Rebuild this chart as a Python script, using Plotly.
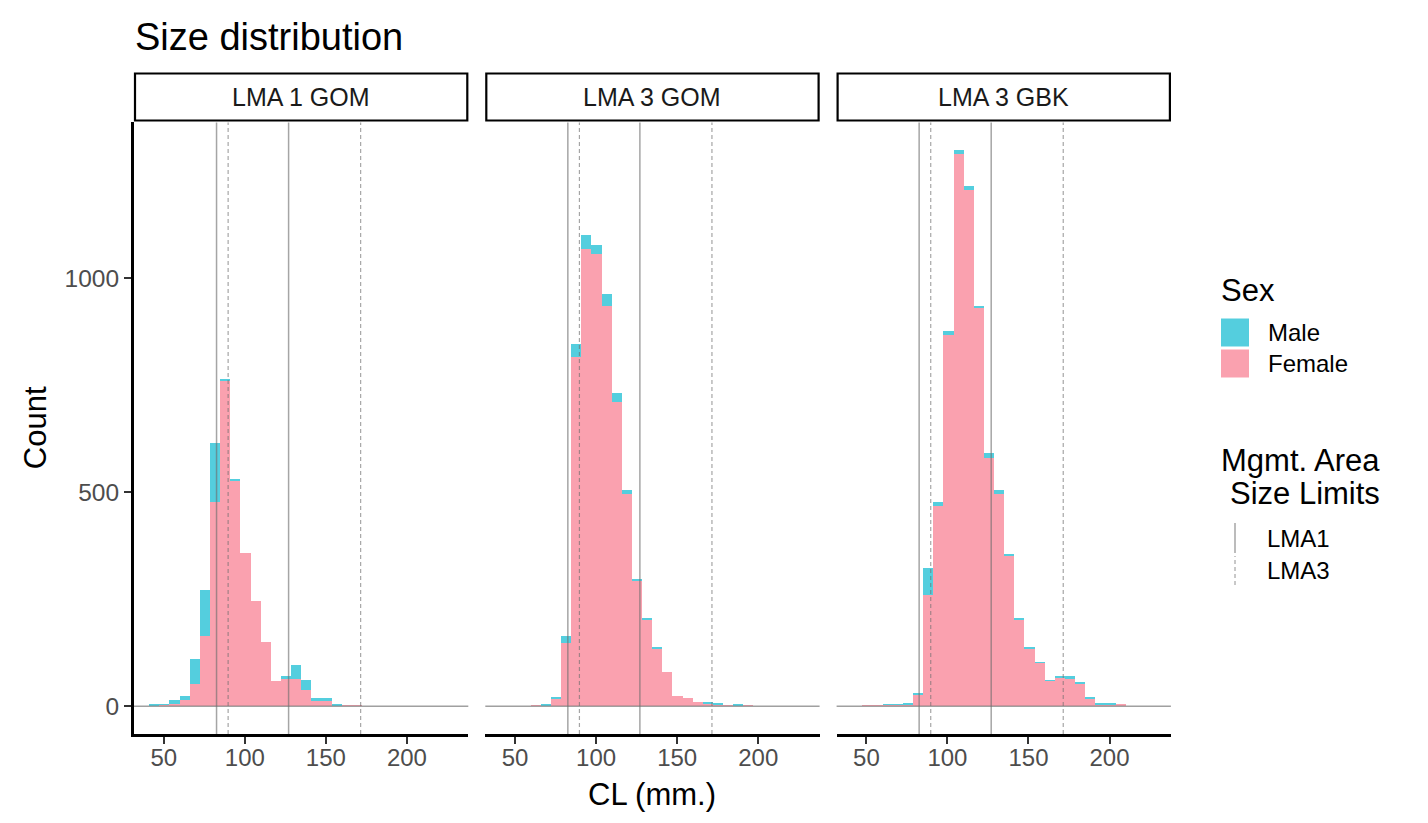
import plotly.graph_objects as go

# ---------------- data ----------------
panels = ["LMA 1 GOM", "LMA 3 GOM", "LMA 3 GBK"]
bin_width = 6.25
bin_centers = [44.125, 50.375, 56.625, 62.875, 69.125, 75.375, 81.625, 87.875, 94.125, 100.375,
               106.625, 112.875, 119.125, 125.375, 131.625, 137.875, 144.125, 150.375, 156.625, 162.875,
               169.125, 175.375, 181.625, 187.875, 194.125, 200.375, 206.625, 212.875, 219.125, 225.375]

female_lma1_gom = [1, 3, 5, 14, 50, 162, 477, 760, 527, 357, 244, 150, 59, 62, 62, 38, 11, 12, 1, 1,
                   1, 0, 0, 0, 0, 0, 0, 0, 0, 0]
male_lma1_gom = [1, 1, 8, 9, 60, 109, 137, 2, 2, 0, 0, 0, 0, 7, 33, 22, 7, 7, 4, 0,
                 0, 0, 0, 0, 0, 0, 0, 0, 0, 0]

female_lma3_gom = [0, 0, 0, 1, 1, 16, 146, 815, 1068, 1056, 935, 709, 495, 291, 200, 133, 80, 24, 19, 9,
                   5, 3, 1, 1, 1, 0, 0, 0, 0, 0]
male_lma3_gom = [0, 0, 0, 0, 1, 3, 18, 31, 31, 21, 27, 22, 10, 6, 5, 4, 0, 0, 0, 0,
                 2, 2, 0, 2, 0, 0, 0, 0, 0, 0]

female_lma3_gbk = [0, 1, 1, 2, 2, 4, 25, 259, 466, 866, 1289, 1206, 929, 580, 496, 352, 200, 132, 100, 58,
                   66, 62, 53, 18, 3, 4, 3, 0, 0, 0]
male_lma3_gbk = [0, 0, 0, 1, 1, 3, 6, 64, 9, 10, 10, 9, 5, 11, 8, 2, 6, 6, 2, 1,
                 4, 7, 1, 3, 2, 1, 0, 0, 0, 0]

lma1_limits = [82.55, 127.0]
lma3_limits = [89.7, 171.45]
x_ticks = [50, 100, 150, 200]
y_ticks = [0, 500, 1000]

female_series = [female_lma1_gom, female_lma3_gom, female_lma3_gbk]
male_series = [male_lma1_gom, male_lma3_gom, male_lma3_gbk]

# ---------------- styling / layout ----------------
PAGE_OFF = 8          # browser default body margin
W, H = 1428 - PAGE_OFF, 823 - PAGE_OFF
FONT = "Liberation Sans, Arial, sans-serif"
PINK = "#FAA1AF"
BLUE = "#54CEDE"
LINE_GRAY = "rgba(110,110,110,0.62)"

def fx(p):
    return (p - PAGE_OFF) / W

def fy(p):
    return 1 - (p - PAGE_OFF) / H

panel_left = [134.0, 485.3, 836.6]
panel_w = 334.3
panel_top, panel_bottom = 122.4, 734.0

lo = bin_centers[0] - bin_width / 2
hi = bin_centers[-1] + bin_width / 2
xr = [lo - 0.05 * (hi - lo), hi + 0.05 * (hi - lo)]
ymax = max(max(f + m for f, m in zip(fs, ms)) for fs, ms in zip(female_series, male_series))
yr = [-0.05 * ymax, 1.05 * ymax]

fig = go.Figure()
for i in range(3):
    sfx = "" if i == 0 else str(i + 1)
    fig.add_trace(go.Bar(x=bin_centers, y=female_series[i], width=bin_width, name="Female",
                         marker=dict(color=PINK, line=dict(width=0)),
                         xaxis="x" + sfx, yaxis="y" + sfx, showlegend=False))
    fig.add_trace(go.Bar(x=bin_centers, y=male_series[i], width=bin_width, name="Male",
                         marker=dict(color=BLUE, line=dict(width=0)),
                         xaxis="x" + sfx, yaxis="y" + sfx, showlegend=False))

layout = dict(
    width=W, height=H, autosize=False,
    margin=dict(l=0, r=0, t=0, b=0),
    paper_bgcolor="#1e1e1e", plot_bgcolor="white",
    barmode="stack", bargap=0,
    font=dict(family=FONT, color="black"),
    showlegend=False,
)
shapes = []
annotations = []

# white page inside dark frame
shapes.append(dict(type="rect", xref="paper", yref="paper", x0=-0.02, x1=fx(1426), y0=-0.02, y1=1.02,
                   fillcolor="white", line=dict(width=0), layer="below"))

for i in range(3):
    sfx = "" if i == 0 else str(i + 1)
    x0p = panel_left[i]
    x1p = panel_left[i] + panel_w
    layout["xaxis" + sfx] = dict(
        domain=[fx(x0p), fx(x1p)], range=xr, anchor="y" + sfx,
        showline=True, linecolor="black", linewidth=3,
        ticks="outside", ticklen=7, tickwidth=2, tickcolor="#333333",
        tickvals=x_ticks, ticktext=[str(t) for t in x_ticks],
        tickfont=dict(size=24, color="#4D4D4D", family=FONT),
        ticklabelstandoff=-7,
        showgrid=False, zeroline=False, fixedrange=True,
    )
    ydict = dict(
        domain=[fy(panel_bottom), fy(panel_top)], range=yr, anchor="x" + sfx,
        showgrid=False, zeroline=False, fixedrange=True,
    )
    if i == 0:
        ydict.update(showline=True, linecolor="black", linewidth=3,
                     ticks="outside", ticklen=7, tickwidth=2, tickcolor="#333333",
                     tickvals=y_ticks, ticktext=[str(t) for t in y_ticks],
                     tickfont=dict(size=24.5, color="#4D4D4D", family=FONT))
    else:
        ydict.update(showline=False, showticklabels=False, ticks="")
    layout["yaxis" + sfx] = ydict

    xref = "x" + sfx
    yref = "y" + sfx
    # horizontal line at zero
    shapes.append(dict(type="line", xref=xref + " domain", yref=yref, x0=0, x1=1, y0=0, y1=0,
                       line=dict(color="rgba(120,120,120,0.7)", width=1.5), layer="above"))
    # size limit lines
    for v in lma1_limits:
        shapes.append(dict(type="line", xref=xref, yref=yref + " domain", x0=v, x1=v, y0=0, y1=1,
                           line=dict(color=LINE_GRAY, width=1.5), layer="above"))
    for v in lma3_limits:
        shapes.append(dict(type="line", xref=xref, yref=yref + " domain", x0=v, x1=v, y0=0, y1=1,
                           line=dict(color=LINE_GRAY, width=1.2, dash="4px,3px"), layer="above"))
    # strip
    shapes.append(dict(type="rect", xref="paper", yref="paper", x0=fx(x0p + 1), x1=fx(x1p - 1),
                       y0=fy(120.5), y1=fy(73.5), fillcolor="white",
                       line=dict(color="black", width=2.2), layer="above"))
    annotations.append(dict(text=panels[i], xref="paper", yref="paper", x=fx((x0p + x1p) / 2), y=fy(97),
                            xanchor="center", yanchor="middle", showarrow=False,
                            font=dict(size=25, color="#1A1A1A", family=FONT)))

# titles
annotations.append(dict(text="Size distribution", xref="paper", yref="paper", x=fx(133), y=fy(37),
                        xanchor="left", yanchor="middle", showarrow=False,
                        font=dict(size=38, color="black", family=FONT)))
annotations.append(dict(text="CL (mm.)", xref="paper", yref="paper",
                        x=fx((panel_left[0] + panel_left[2] + panel_w) / 2), y=fy(794),
                        xanchor="center", yanchor="middle", showarrow=False,
                        font=dict(size=31, color="black", family=FONT)))
annotations.append(dict(text="Count", xref="paper", yref="paper", x=fx(35), y=fy((panel_top + panel_bottom) / 2),
                        xanchor="center", yanchor="middle", showarrow=False, textangle=-90,
                        font=dict(size=31, color="black", family=FONT)))

# legend: Sex
annotations.append(dict(text="Sex", xref="paper", yref="paper", x=fx(1219), y=fy(290),
                        xanchor="left", yanchor="middle", showarrow=False,
                        font=dict(size=31, color="black", family=FONT)))
for label, col, ytop in [("Male", BLUE, 318.5), ("Female", PINK, 349.5)]:
    shapes.append(dict(type="rect", xref="paper", yref="paper", x0=fx(1221), x1=fx(1249),
                       y0=fy(ytop + 28), y1=fy(ytop), fillcolor=col, line=dict(width=0), layer="above"))
    annotations.append(dict(text=label, xref="paper", yref="paper", x=fx(1266), y=fy(ytop + 14.5),
                            xanchor="left", yanchor="middle", showarrow=False,
                            font=dict(size=24, color="black", family=FONT)))

# legend: size limits
annotations.append(dict(text="Mgmt. Area", xref="paper", yref="paper", x=fx(1219), y=fy(460),
                        xanchor="left", yanchor="middle", showarrow=False,
                        font=dict(size=31, color="black", family=FONT)))
annotations.append(dict(text="Size Limits", xref="paper", yref="paper", x=fx(1228), y=fy(493),
                        xanchor="left", yanchor="middle", showarrow=False,
                        font=dict(size=31, color="black", family=FONT)))
shapes.append(dict(type="line", xref="paper", yref="paper", x0=fx(1235), x1=fx(1235), y0=fy(553), y1=fy(523),
                   line=dict(color=LINE_GRAY, width=1.5), layer="above"))
shapes.append(dict(type="line", xref="paper", yref="paper", x0=fx(1235), x1=fx(1235), y0=fy(585), y1=fy(556),
                   line=dict(color=LINE_GRAY, width=1.2, dash="4px,3px"), layer="above"))
annotations.append(dict(text="LMA1", xref="paper", yref="paper", x=fx(1265), y=fy(538),
                        xanchor="left", yanchor="middle", showarrow=False,
                        font=dict(size=24, color="black", family=FONT)))
annotations.append(dict(text="LMA3", xref="paper", yref="paper", x=fx(1265), y=fy(570),
                        xanchor="left", yanchor="middle", showarrow=False,
                        font=dict(size=24, color="black", family=FONT)))

layout["shapes"] = shapes
layout["annotations"] = annotations
fig.update_layout(**layout)

fig.write_html("out.html")
